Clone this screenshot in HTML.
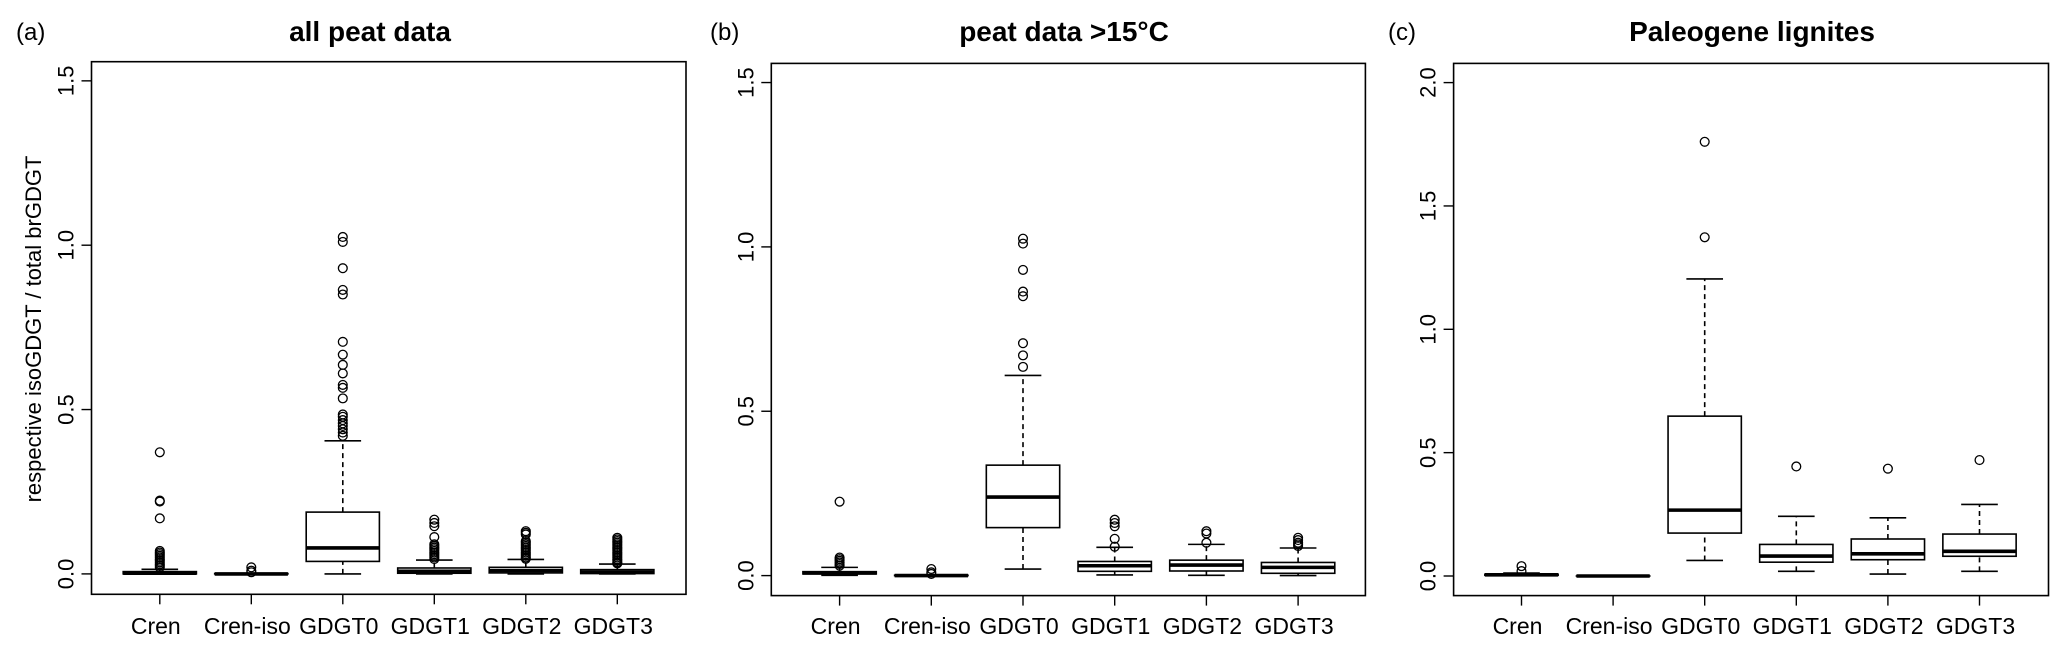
<!DOCTYPE html>
<html><head><meta charset="utf-8"><style>
html,body{margin:0;padding:0;background:#fff;}
svg{display:block;font-family:"Liberation Sans",Arial,sans-serif;}
</style></head><body>
<svg id="fig" width="2067" height="654" viewBox="0 0 2067 654" xmlns="http://www.w3.org/2000/svg"></svg>
<script>
const categories = ["Cren","Cren-iso","GDGT0","GDGT1","GDGT2","GDGT3"];
// stats per category: [lowWhisker, q1, median, q3, highWhisker]
const statsA = [[0,0,0.002,0.007,0.014],[0,0,0,0.001,0.002],[0,0.038,0.079,0.188,0.405],[0,0.002,0.008,0.018,0.042],[0,0.003,0.01,0.02,0.044],[0,0.001,0.005,0.013,0.03]];
const outliersA = [[0.37,0.223,0.22,0.169,0.07,0.065,0.06,0.055,0.05,0.045,0.04,0.035,0.03,0.025,0.02],[0.02,0.01,0.005],[1.025,1.01,0.93,0.864,0.85,0.706,0.667,0.636,0.61,0.575,0.566,0.534,0.485,0.478,0.468,0.458,0.45,0.44,0.43,0.42],[0.165,0.155,0.145,0.112,0.09,0.085,0.08,0.075,0.07,0.065,0.06,0.055,0.05,0.045],[0.13,0.125,0.12,0.1,0.095,0.09,0.085,0.08,0.075,0.07,0.065,0.06,0.055,0.05,0.046],[0.11,0.105,0.1,0.095,0.09,0.085,0.08,0.075,0.07,0.065,0.06,0.055,0.05,0.045,0.04,0.035,0.032]];
const statsB = [[0.001,0.005,0.008,0.012,0.025],[0,0,0,0.001,0.002],[0.02,0.146,0.239,0.336,0.609],[0.002,0.013,0.03,0.043,0.086],[0.001,0.014,0.032,0.047,0.095],[0,0.007,0.025,0.04,0.084]];
const outliersB = [[0.225,0.055,0.05,0.045,0.04,0.035,0.03],[0.02,0.01,0.005],[1.025,1.01,0.93,0.864,0.85,0.707,0.67,0.635],[0.17,0.16,0.15,0.112,0.088],[0.135,0.128,0.1],[0.115,0.108,0.1,0.095,0.09]];
const statsC = [[0.002,0.003,0.005,0.007,0.012],[0,0,0,0,0],[0.063,0.174,0.267,0.648,1.204],[0.019,0.056,0.081,0.128,0.242],[0.008,0.066,0.09,0.15,0.236],[0.019,0.08,0.1,0.17,0.29]];
const outliersC = [[0.04,0.02],[],[1.76,1.373],[0.444],[0.435],[0.47]];
const ticksAB = [0,0.5,1.0,1.5];
const tickLabelsAB = ["0.0","0.5","1.0","1.5"];
const ticksC = [0,0.5,1.0,1.5,2.0];
const tickLabelsC = ["0.0","0.5","1.0","1.5","2.0"];

const NS="http://www.w3.org/2000/svg";
const svg=document.getElementById('fig');
function mk(tag,attrs,parent){const e=document.createElementNS(NS,tag);for(const k in attrs)e.setAttribute(k,attrs[k]);(parent||svg).appendChild(e);return e;}

const panels=[
 {id:'a',tag:'(a)',title:'all peat data',stats:statsA,out:outliersA,ticks:ticksAB,tl:tickLabelsAB,
  left:91.5,right:686,top:61.7,bottom:594.3,y0:573.9,unit:328.7,cx0:159.8,dx:91.5,tagX:16,titleX:370,ytitle:true},
 {id:'b',tag:'(b)',title:'peat data >15°C',stats:statsB,out:outliersB,ticks:ticksAB,tl:tickLabelsAB,
  left:771.3,right:1365.4,top:63.4,bottom:595.6,y0:575.6,unit:328.7,cx0:839.6,dx:91.7,tagX:710,titleX:1064},
 {id:'c',tag:'(c)',title:'Paleogene lignites',stats:statsC,out:outliersC,ticks:ticksC,tl:tickLabelsC,
  left:1453.6,right:2048.5,top:63.4,bottom:595.6,y0:576,unit:246.7,cx0:1521.5,dx:91.6,tagX:1388,titleX:1752}
];

panels.forEach(p=>{
  const g=mk('g',{});
  
  
  const y=v=>p.y0-v*p.unit;
  const x=i=>p.cx0+i*p.dx;
  const tlx=p.left-18;
  const tg=mk('text',{x:p.tagX,y:40,'font-size':24},g); tg.textContent=p.tag;
  
  
  const tt=mk('text',{x:p.titleX,y:41,'font-size':28,'font-weight':'bold','text-anchor':'middle'},g); tt.textContent=p.title;
  
  
  const fr=mk('rect',{x:p.left,y:p.top,width:p.right-p.left,height:p.bottom-p.top,fill:'none',stroke:'#000','stroke-width':1.6},g);
  
  
  p.ticks.forEach((t,i)=>{
    mk('line',{x1:p.left-10,x2:p.left,y1:y(t),y2:y(t),stroke:'#000','stroke-width':1.4},g);
    const lb=mk('text',{x:tlx,y:y(t),'font-size':22,'text-anchor':'middle',transform:`rotate(-90 ${tlx} ${y(t)})`},g);
    lb.textContent=p.tl[i];
    
    
  });
  categories.forEach((c,i)=>{
    mk('line',{x1:x(i),x2:x(i),y1:p.bottom,y2:p.bottom+10,stroke:'#000','stroke-width':1.4},g);
    const lb=mk('text',{x:x(i)-4,y:634,'font-size':23,'text-anchor':'middle'},g);
    lb.textContent=c;
    
    
  });
  const bw=0.8*p.dx, cw=bw/2;
  p.stats.forEach((s,i)=>{
    const bg=mk('g',{},g);
    
    
    const cx=x(i);
    mk('line',{x1:cx,x2:cx,y1:y(s[0]),y2:y(s[1]),stroke:'#000','stroke-width':1.6,'stroke-dasharray':'5 4'},bg);
    mk('line',{x1:cx,x2:cx,y1:y(s[3]),y2:y(s[4]),stroke:'#000','stroke-width':1.6,'stroke-dasharray':'5 4'},bg);
    mk('line',{x1:cx-cw/2,x2:cx+cw/2,y1:y(s[0]),y2:y(s[0]),stroke:'#000','stroke-width':1.6},bg);
    mk('line',{x1:cx-cw/2,x2:cx+cw/2,y1:y(s[4]),y2:y(s[4]),stroke:'#000','stroke-width':1.6},bg);
    mk('rect',{x:cx-bw/2,y:y(s[3]),width:bw,height:Math.max(0.01,y(s[1])-y(s[3])),fill:'#fff',stroke:'#000','stroke-width':1.6},bg);
    mk('line',{x1:cx-bw/2,x2:cx+bw/2,y1:y(s[2]),y2:y(s[2]),stroke:'#000','stroke-width':3.6},bg);
    p.out[i].forEach(v=>{
      const c=mk('circle',{cx:cx,cy:y(v),r:4.4,fill:'none',stroke:'#000','stroke-width':1.3},bg);
      
      
    });
  });
  if(p.ytitle){
    const yt=mk('text',{x:41,y:329,'font-size':22,'text-anchor':'middle',transform:'rotate(-90 41 329)'},g);
    yt.textContent='respective isoGDGT / total brGDGT';
    
    
  }
});
</script>
</body></html>
